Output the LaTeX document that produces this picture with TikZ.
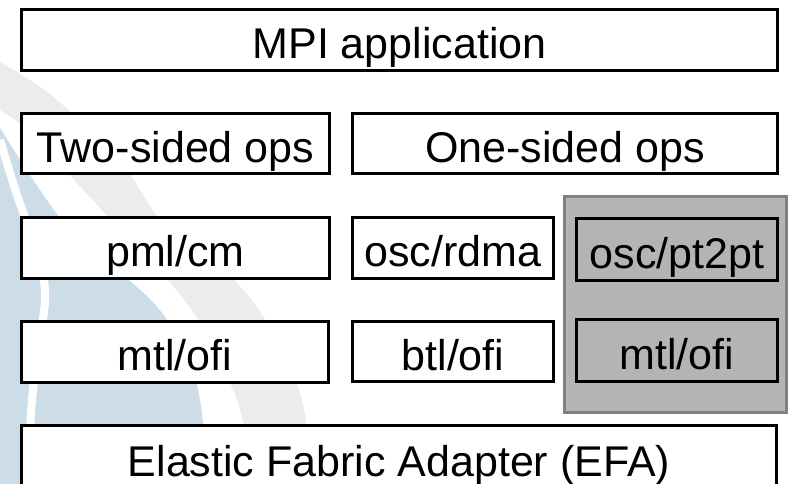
\documentclass[tikz,border=0pt]{standalone}
\usepackage{fontspec}
\setmainfont{Liberation Sans}
\definecolor{wmblue}{RGB}{205,221,232}
\definecolor{wmgrey}{RGB}{234,237,236}
\definecolor{grpfill}{RGB}{180,180,180}
\definecolor{grpline}{RGB}{128,128,128}
\begin{document}
\begin{tikzpicture}[x=1pt,y=-1pt,
  layer/.style={draw=black, line width=3pt, fill=white, inner sep=0pt,
    text height=37pt, text depth=0pt, font=\fontsize{43}{50}\selectfont},
  shaded/.style={layer, fill=grpfill},
  group/.style={draw=grpline, line width=3pt, fill=grpfill, inner sep=0pt}]
\useasboundingbox (0,0) rectangle (789,483);
\clip (0,0) rectangle (789,483);

% faint background swooshes
\fill[wmgrey] plot[smooth] coordinates {(0,62) (55,98) (126,170) (161,220) (232,278) (267,323) (302,400) (312,490)}
  -- plot[smooth] coordinates {(258,490) (237,400) (200,323) (166,278) (111,220) (65,170) (25,128) (0,110)} -- cycle;
\fill[wmblue] plot[smooth] coordinates {(0,128) (40,190) (75,235) (151,300) (185,350) (200,400) (210,490)}
  -- (0,490) -- cycle;
\draw[white, line width=8pt] plot[smooth] coordinates {(0,140) (17,195) (40,260) (45,300) (38,350) (32,400) (26,490)};

% layers
\node[layer, minimum width=756pt, minimum height=61pt] (app) at (399.5,40) {MPI application};
\node[layer, minimum width=308pt, minimum height=60pt] (two) at (175.5,143.5) {Two-sided ops};
\node[layer, minimum width=425pt, minimum height=60pt] (one) at (565,143.5) {One-sided ops};

% grey group behind the point-to-point one-sided path
\node[group, minimum width=222pt, minimum height=216pt] (grp) at (675.5,304.5) {};

\node[layer, minimum width=308pt, minimum height=61pt] (pml) at (175.5,248) {pml/cm};
\node[layer, minimum width=201pt, minimum height=61pt] (rdma) at (453,248) {osc/rdma};
\node[shaded, minimum width=201pt, minimum height=62pt] (pt2pt) at (677,249.5) {osc/pt2pt};

\node[layer, minimum width=307pt, minimum height=61pt] (mtlL) at (175,352) {mtl/ofi};
\node[layer, minimum width=201pt, minimum height=60pt] (btl) at (453,351.5) {btl/ofi};
\node[shaded, minimum width=201pt, minimum height=62pt] (mtlR) at (677,350.5) {mtl/ofi};

\node[layer, minimum width=755pt, minimum height=64pt] (efa) at (399,457.5) {Elastic Fabric Adapter (EFA)};
\end{tikzpicture}
\end{document}
